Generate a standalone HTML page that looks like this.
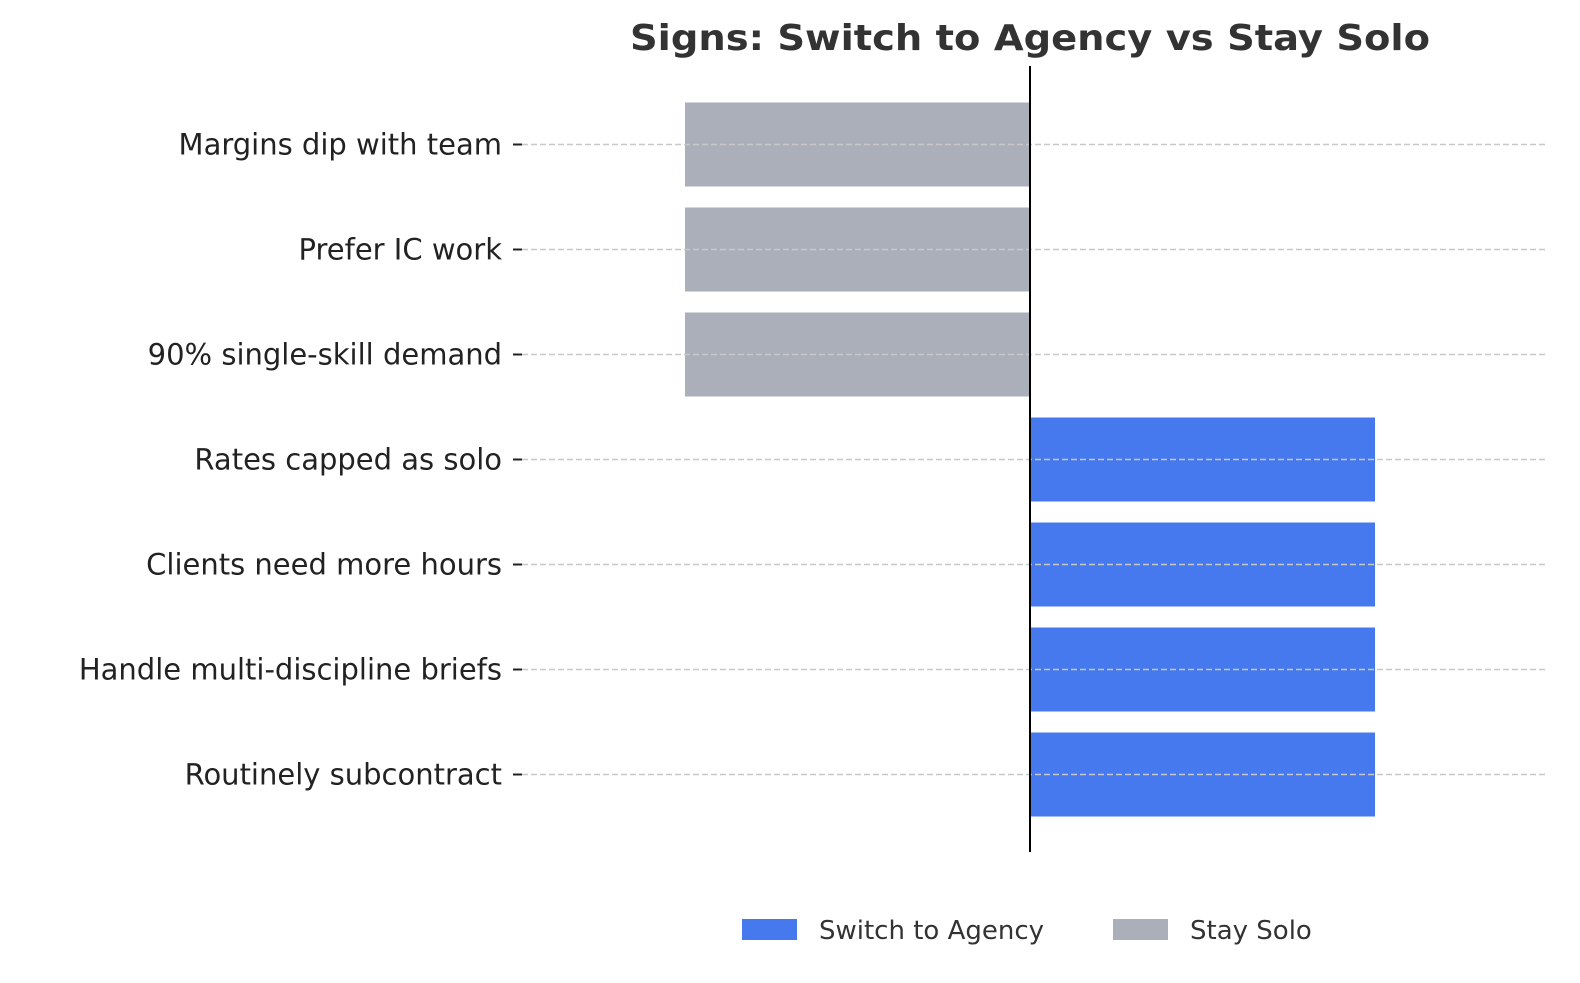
<!DOCTYPE html>
<html><head><meta charset="utf-8"><style>
html,body{margin:0;padding:0;background:#fff;}
svg{display:block;font-family:"DejaVu Sans","Liberation Sans",sans-serif;}
</style></head><body>
<svg id="chart" width="1580" height="983" viewBox="0 0 1580 983">
<text x="1030" y="50" text-anchor="middle" font-size="36" font-weight="bold" fill="#333" textLength="800" lengthAdjust="spacingAndGlyphs">Signs: Switch to Agency vs Stay Solo</text>
<g id="bars"></g>
<g id="grid"></g>
<g id="ticks"></g>
<line x1="1030" y1="66" x2="1030" y2="852" stroke="#000" stroke-width="2"/>
<g>
<rect x="742" y="919" width="55" height="21" fill="#4679EE"/>
<text x="819" y="939" font-size="26" fill="#333">Switch to Agency</text>
<rect x="1113" y="919" width="55" height="21" fill="#ABAFB9"/>
<text x="1190" y="939" font-size="26" fill="#333">Stay Solo</text>
</g>
</svg>
<script>
const categories = ["Margins dip with team","Prefer IC work","90% single-skill demand","Rates capped as solo","Clients need more hours","Handle multi-discipline briefs","Routinely subcontract"];
const values = [-1,-1,-1,1,1,1,1];
const seriesNames = ["Switch to Agency","Stay Solo"];

const NS="http://www.w3.org/2000/svg";
const x0=1030, unit=345;
function xScale(v){return x0+v*unit;}
const rowTop=92, rowStep=105, barH=84;
function yCenter(i){return rowTop+rowStep*i+rowStep/2;}
const bars=document.getElementById('bars'), grid=document.getElementById('grid'), ticks=document.getElementById('ticks');
categories.forEach((c,i)=>{
  const v=values[i], yc=yCenter(i);
  const r=document.createElementNS(NS,'rect');
  
  
  r.setAttribute('x',Math.min(xScale(0),xScale(v)));
  r.setAttribute('width',Math.abs(xScale(v)-xScale(0)));
  r.setAttribute('y',yc-barH/2);
  r.setAttribute('height',barH);
  r.setAttribute('fill',v>=0?'#4679EE':'#ABAFB9');
  bars.appendChild(r);
  const g=document.createElementNS(NS,'line');
  
  
  g.setAttribute('x1',522);g.setAttribute('x2',1548);
  g.setAttribute('y1',yc);g.setAttribute('y2',yc);
  g.setAttribute('stroke','#c8c8c8');g.setAttribute('stroke-width','1.5');g.setAttribute('stroke-dasharray','6,3');
  grid.appendChild(g);
  const t=document.createElementNS(NS,'line');
  
  
  t.setAttribute('x1',513);t.setAttribute('x2',522);t.setAttribute('y1',yc);t.setAttribute('y2',yc);
  t.setAttribute('stroke','#222');t.setAttribute('stroke-width','2');
  ticks.appendChild(t);
  const l=document.createElementNS(NS,'text');
  
  
  l.setAttribute('x',502);l.setAttribute('y',yc+10);
  l.setAttribute('text-anchor','end');l.setAttribute('font-size','29');l.setAttribute('fill','#222');
  l.textContent=c;
  ticks.appendChild(l);
});
</script>
</body></html>
